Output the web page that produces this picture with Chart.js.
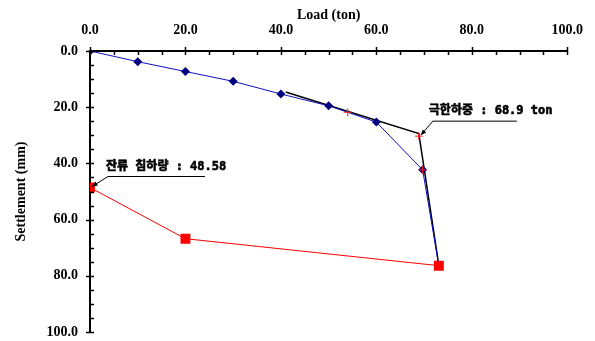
<!DOCTYPE html>
<html>
<head>
<meta charset="utf-8">
<script src="https://cdn.jsdelivr.net/npm/chart.js@4/dist/chart.umd.min.js"></script>
<style>
    html, body { margin: 0; padding: 0; background: #ffffff; }
    #wrap { width: 595px; height: 341px; }
</style>
</head>
<body>
<div id="wrap"><canvas id="settleChart" width="595" height="341"></canvas></div>
<script>
// load-settlement curve (loading)
const loadingLoad = [0, 10, 20, 30, 40, 50, 60, 69.7, 73.1];
const loadingSettle = [0, 3.8, 7.3, 10.8, 15.3, 19.5, 25.3, 42.3, 76.4];

// unloading curve
const unloadLoad = [73.1, 20, 0];
const unloadSettle = [76.4, 66.8, 48.58];

// tangent lines used to pick the ultimate load
const tangentLoad = [41, 68.9, 73.1];
const tangentSettle = [14.6, 29.4, 76.4];

// red cross marks
const markLoad = [54, 68.9, 69.7];
const markSettle = [21.8, 30.3, 42.3];

const ultimateLoad = 68.9;
const ultimateSettle = 30.3;
const residualSettle = 48.58;

const axisTicks = [0, 20, 40, 60, 80, 100];

function toPoints(xs, ys) {
    return xs.map((x, i) => ({ x: x, y: ys[i] }));
}

const axisFont = { family: 'Liberation Serif', size: 14, weight: 'bold' };
const noteFont = 'bold 12px "DejaVu Sans Mono", "Noto Sans CJK KR", monospace';

//################### small tick marks on both axes ###################
const tickMarks = {
    id: 'tickMarks',
    afterDraw(chart) {
        const ctx = chart.ctx;
        const xs = chart.scales.x;
        const ys = chart.scales.y;
        const area = chart.chartArea;
        ctx.save();
        ctx.strokeStyle = '#000';
        ctx.lineWidth = 1.5;
        for (let v = 0; v <= 100; v += 5) {
            const major = axisTicks.includes(v);
            const px = Math.round(xs.getPixelForValue(v)) + 0.5;
            ctx.beginPath();
            ctx.moveTo(px, area.top - (major ? 4 : 0));
            ctx.lineTo(px, area.top + 4);
            ctx.stroke();
            const py = Math.round(ys.getPixelForValue(v)) + 0.5;
            ctx.beginPath();
            ctx.moveTo(area.left - (major ? 4 : 0), py);
            ctx.lineTo(area.left + 4, py);
            ctx.stroke();
        }
        ctx.restore();
    }
};

//################### callout labels with arrows ###################
function drawArrow(ctx, x0, y0, x1, y1) {
    ctx.beginPath();
    ctx.moveTo(x0, y0);
    ctx.lineTo(x1, y1);
    ctx.stroke();
    const a = Math.atan2(y1 - y0, x1 - x0);
    const len = 6;
    ctx.beginPath();
    ctx.moveTo(x1, y1);
    ctx.lineTo(x1 - len * Math.cos(a - 0.4), y1 - len * Math.sin(a - 0.4));
    ctx.lineTo(x1 - len * Math.cos(a + 0.4), y1 - len * Math.sin(a + 0.4));
    ctx.closePath();
    ctx.fill();
}

function drawCallout(ctx, px, py, text, tx, ty, lineY, lineEnd) {
    ctx.strokeStyle = '#000';
    ctx.fillStyle = '#000';
    ctx.lineWidth = 1;
    ctx.beginPath();
    ctx.moveTo(px + lineEnd[0], py + lineY);
    ctx.lineTo(px + lineEnd[1], py + lineY);
    ctx.stroke();
    drawArrow(ctx, px + lineEnd[0], py + lineY, px + 2, py - 1);
    ctx.font = noteFont;
    ctx.textAlign = 'left';
    ctx.textBaseline = 'middle';
    ctx.fillText(text, px + tx, py + ty);
    // thicken the glyphs a little
    ctx.lineWidth = 0.6;
    ctx.strokeText(text, px + tx, py + ty);
}

const callouts = {
    id: 'callouts',
    afterDraw(chart) {
        const ctx = chart.ctx;
        const xs = chart.scales.x;
        const ys = chart.scales.y;
        ctx.save();
        const ux = xs.getPixelForValue(ultimateLoad);
        const uy = ys.getPixelForValue(ultimateSettle);
        drawCallout(ctx, ux, uy, '극한하중 : ' + ultimateLoad.toFixed(1) + ' ton', 10, -25, -15, [14, 98]);
        const rx = xs.getPixelForValue(0);
        const ry = ys.getPixelForValue(residualSettle);
        drawCallout(ctx, rx, ry, '잔류 침하량 : ' + residualSettle.toFixed(2), 16, -21, -11, [18, 115]);
        ctx.restore();
    }
};

const settleCtx = document.getElementById('settleChart').getContext('2d');
new Chart(settleCtx, {
    type: 'scatter',
    data: {
        datasets: [
            {
                label: 'Unloading',
                data: toPoints(unloadLoad, unloadSettle),
                showLine: true,
                borderColor: '#ff0000',
                borderWidth: 1,
                pointStyle: 'rect',
                pointRadius: 7,
                pointBackgroundColor: '#ff0000',
                pointBorderColor: '#ff0000',
                pointBorderWidth: 0,
                order: 0
            },
            {
                label: 'Marks',
                data: toPoints(markLoad, markSettle),
                showLine: false,
                pointStyle: 'cross',
                pointRadius: 4,
                pointBorderColor: '#ff2020',
                pointBorderWidth: 1,
                order: 1
            },
            {
                label: 'Loading',
                data: toPoints(loadingLoad, loadingSettle),
                showLine: true,
                borderColor: '#1010c0',
                borderWidth: 1,
                pointStyle: 'rectRot',
                pointRadius: 4.5,
                pointBackgroundColor: '#000080',
                pointBorderColor: '#000080',
                pointBorderWidth: 0,
                order: 2
            },
            {
                label: 'Tangent',
                data: toPoints(tangentLoad, tangentSettle),
                showLine: true,
                borderColor: '#000000',
                borderWidth: 1.5,
                pointRadius: 0,
                order: 3
            }
        ]
    },
    options: {
        responsive: false,
        animation: false,
        layout: {
            padding: { left: 0, right: 26, top: 0, bottom: 0 }
        },
        plugins: {
            legend: { display: false },
            tooltip: { enabled: false }
        },
        scales: {
            x: {
                type: 'linear',
                position: 'top',
                min: 0,
                max: 100,
                afterBuildTicks: (scale) => { scale.ticks = axisTicks.map(v => ({ value: v })); },
                afterFit: (scale) => { scale.height = 51; },
                ticks: {
                    padding: 12,
                    color: '#000',
                    font: axisFont,
                    maxRotation: 0,
                    callback: (v) => Number(v).toFixed(1)
                },
                grid: { drawOnChartArea: false, drawTicks: false },
                border: { color: '#000', width: 2 },
                title: {
                    display: true,
                    text: 'Load (ton)',
                    color: '#000',
                    font: axisFont,
                    padding: { top: 7, bottom: 0 }
                }
            },
            y: {
                type: 'linear',
                reverse: true,
                min: 0,
                max: 100,
                afterBuildTicks: (scale) => { scale.ticks = axisTicks.map(v => ({ value: v })); },
                afterFit: (scale) => {
                    scale.width = 90;
                    scale.paddingTop = 0;
                    scale.paddingBottom = 9;
                },
                ticks: {
                    padding: 12,
                    color: '#000',
                    font: axisFont,
                    callback: (v) => Number(v).toFixed(1)
                },
                grid: { drawOnChartArea: false, drawTicks: false },
                border: { color: '#000', width: 2 },
                title: {
                    display: true,
                    text: 'Settlement (mm)',
                    color: '#000',
                    font: axisFont,
                    padding: { top: 13, bottom: 0 }
                }
            }
        }
    },
    plugins: [tickMarks, callouts]
});
</script>
</body>
</html>
